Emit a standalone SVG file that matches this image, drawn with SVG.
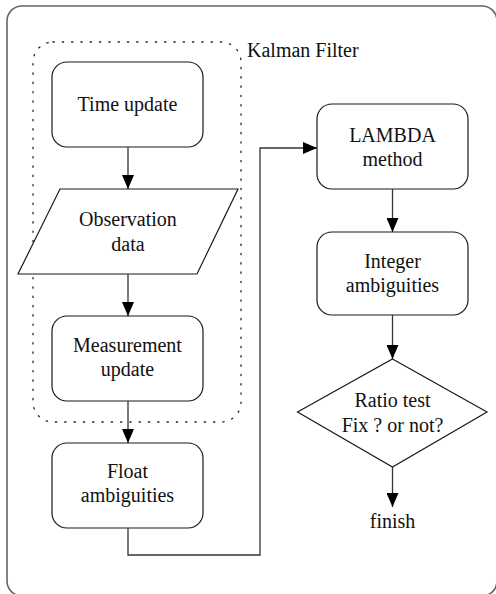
<svg xmlns="http://www.w3.org/2000/svg" width="496" height="594" viewBox="0 0 496 594">
<style>
.n{fill:#fff;stroke:#1a1a1a;stroke-width:1.2}
.t{font-family:"Liberation Serif",serif;font-size:20px;fill:#111;text-anchor:middle}
.c{fill:none;stroke:#333;stroke-width:1.3}
</style>
<defs>
<marker id="ah" viewBox="0 0 14 12" refX="14" refY="6" markerWidth="14" markerHeight="12" markerUnits="userSpaceOnUse" orient="auto">
<path d="M0,0 L14,6 L0,12 z" fill="#000"/>
</marker>
</defs>
<rect width="496" height="594" fill="#fff"/>
<g id="frame">
<rect x="7" y="6" width="490" height="590" rx="15" fill="none" stroke="#666" stroke-width="1.6"/>
</g>
<g id="kalman">
<rect x="33" y="42" width="208" height="380" rx="20" fill="none" stroke="#222" stroke-width="1.3" stroke-dasharray="1.3 8" stroke-linecap="round"/>
<text x="247" y="57" class="t" style="text-anchor:start">Kalman Filter</text>
</g>
<g id="time-update">
<rect x="52" y="62" width="151" height="85" rx="15" class="n"/>
<text x="127.5" y="111" class="t">Time update</text>
</g>
<g id="observation">
<polygon points="60,189 238,189 197,274 18,274" class="n"/>
<text x="128" y="225.5" class="t">Observation</text>
<text x="128" y="250.5" class="t">data</text>
</g>
<g id="measurement-update">
<rect x="52" y="316" width="151" height="85" rx="15" class="n"/>
<text x="127.5" y="352" class="t">Measurement</text>
<text x="127.5" y="376" class="t">update</text>
</g>
<g id="float-ambiguities">
<rect x="52" y="443" width="151" height="85" rx="15" class="n"/>
<text x="127.5" y="478" class="t">Float</text>
<text x="127.5" y="502" class="t">ambiguities</text>
</g>
<g id="lambda">
<rect x="317" y="104" width="151" height="85" rx="15" class="n"/>
<text x="392.5" y="141.5" class="t">LAMBDA</text>
<text x="392.5" y="165.5" class="t">method</text>
</g>
<g id="integer-ambiguities">
<rect x="317" y="232" width="151" height="83" rx="15" class="n"/>
<text x="392.5" y="268" class="t">Integer</text>
<text x="392.5" y="292" class="t">ambiguities</text>
</g>
<g id="ratio-test">
<polygon points="392.5,359 487,412 392.5,467 297.5,412" class="n"/>
<text x="392.5" y="407" class="t">Ratio test</text>
<text x="392.5" y="432" class="t">Fix ? or not?</text>
</g>
<g id="finish">
<text x="392.5" y="528" class="t">finish</text>
</g>
<g id="connectors">
<line x1="128" y1="147" x2="128" y2="189" class="c" marker-end="url(#ah)"/>
<line x1="128" y1="274" x2="128" y2="316" class="c" marker-end="url(#ah)"/>
<line x1="128" y1="401" x2="128" y2="443" class="c" marker-end="url(#ah)"/>
<polyline points="128,528 128,555 260,555 260,148 317,148" class="c" marker-end="url(#ah)"/>
<line x1="392.5" y1="189" x2="392.5" y2="232" class="c" marker-end="url(#ah)"/>
<line x1="392.5" y1="315" x2="392.5" y2="359" class="c" marker-end="url(#ah)"/>
<line x1="392.5" y1="467" x2="392.5" y2="507" class="c" marker-end="url(#ah)"/>
</g>
</svg>
